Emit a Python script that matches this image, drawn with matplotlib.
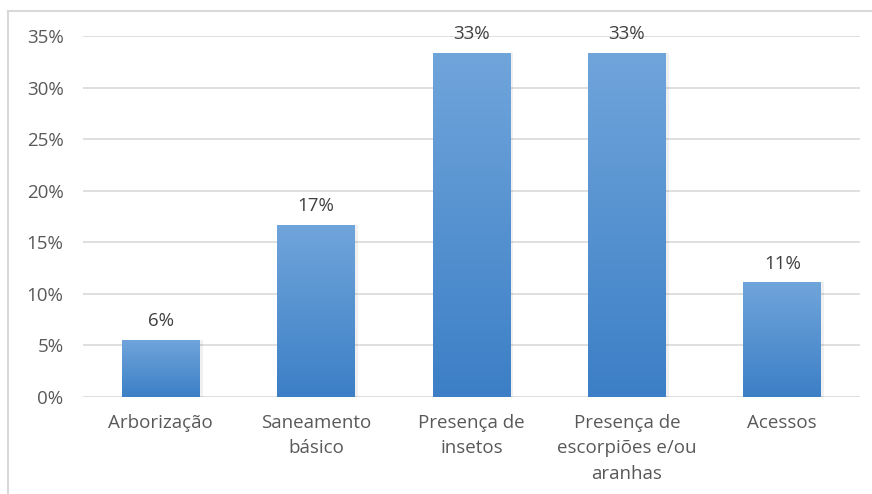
import matplotlib
matplotlib.use('Agg')
import matplotlib.pyplot as plt
import numpy as np
from matplotlib.colors import LinearSegmentedColormap
from matplotlib.ticker import PercentFormatter

plt.rcParams['font.family'] = ['Open Sans', 'DejaVu Sans']

categories = ['Arborização', 'Saneamento\nbásico', 'Presença de\ninsetos',
              'Presença de\nescorpiões e/ou\naranhas', 'Acessos']
values = [1/18, 3/18, 6/18, 6/18, 2/18]
value_labels = ['6%', '17%', '33%', '33%', '11%']
yticks = [0, 0.05, 0.10, 0.15, 0.20, 0.25, 0.30, 0.35]

fig = plt.figure(figsize=(8.72, 4.94), dpi=100)
ax = fig.add_axes([83/872, 1 - 397/494, 777/872, 361/494])

x = np.arange(len(categories))
bars = ax.bar(x, values, width=0.5, color='none', zorder=3)

# vertical gradient inside each bar: lighter on top, darker at the bottom
cmap = LinearSegmentedColormap.from_list('blue_grad', ['#3C7FC6', '#70A5DB'])
grad = np.linspace(0, 1, 256).reshape(-1, 1)
for b in bars:
    x0, y0, w, h = b.get_x(), b.get_y(), b.get_width(), b.get_height()
    # soft shadow
    ax.bar(x0 + w/2 + 0.01, h, width=w + 0.02, color='#000000', alpha=0.06,
           zorder=2, linewidth=0)
    im = ax.imshow(grad, cmap=cmap, origin='lower', aspect='auto',
                   extent=[x0, x0 + w, y0, y0 + h], zorder=3)
    im.set_clip_path(b)

for xi, v, lab in zip(x, values, value_labels):
    ax.text(xi, v + 0.0095, lab, ha='center', va='bottom', fontsize=13.5,
            color='#404040')

ax.set_xlim(-0.5, len(categories) - 0.5)
ax.set_ylim(0, 0.35)
ax.set_yticks(yticks)
ax.yaxis.set_major_formatter(PercentFormatter(1.0, decimals=0))
ax.set_xticks(x)
ax.set_xticklabels(categories, fontsize=13.5, color='#595959', linespacing=1.55)
ax.tick_params(axis='y', labelsize=13.5, labelcolor='#595959', length=0, pad=14)
ax.tick_params(axis='x', length=0, pad=12)
ax.grid(axis='y', color='#d9d9d9', linewidth=1.2, zorder=0)
ax.set_axisbelow(True)
for s in ax.spines.values():
    s.set_visible(False)

# chart frame (image is cropped on the right and bottom)
fig.add_artist(plt.Line2D([8/872, 8/872], [0, 1 - 11/494], color='#d9d9d9',
                          linewidth=1.5, transform=fig.transFigure))
fig.add_artist(plt.Line2D([8/872, 1], [1 - 11/494, 1 - 11/494], color='#d9d9d9',
                          linewidth=1.5, transform=fig.transFigure))

fig.savefig('out.png', dpi=100)
